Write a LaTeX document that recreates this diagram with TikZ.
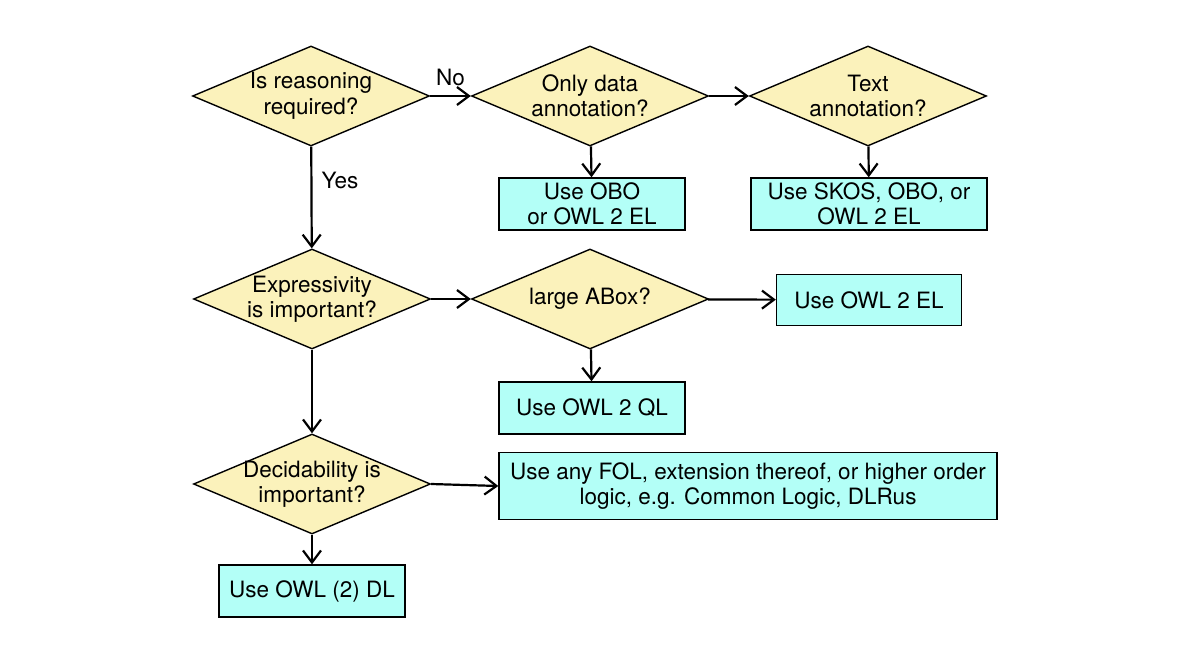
\documentclass[tikz,border=0pt]{standalone}
\usepackage{fontspec}
\setmainfont{TeX Gyre Heros}
\usetikzlibrary{shapes.geometric,arrows.meta}
\definecolor{qyellow}{RGB}{251,242,187}
\definecolor{qcyan}{RGB}{179,255,247}
\begin{document}
\begin{tikzpicture}[x=1pt,y=-1pt,
  every node/.style={font=\fontsize{22.5}{25.5}\selectfont, align=center, inner sep=0pt},
  decision/.style={shape=diamond, draw=black, line width=1.4pt, fill=qyellow, aspect=2.37, minimum width=237pt, minimum height=100pt, label={center:#1}},
  result/.style={shape=rectangle, draw=black, line width=1.4pt, fill=qcyan},
  conn/.style={line width=2.2pt, -{Straight Barb[length=12pt,width=18pt,line width=2.2pt]}}
]
\useasboundingbox (0,0) rectangle (1204,647);
\node[decision={Is reasoning\\required?}] (d1) at (311,96) {};
\node[decision={Only data\\annotation?}] (d2) at (590,96) {};
\node[decision={Text\\annotation?}] (d3) at (868,96) {};
\node[result, minimum width=186pt, minimum height=52pt] (b1) at (592,204) {Use OBO\\or OWL 2 EL};
\node[result, minimum width=236pt, minimum height=52pt] (b2) at (869,204) {Use SKOS, OBO, or\\OWL 2 EL};
\node[decision={Expressivity\\is important?}] (d4) at (312,299) {};
\node[decision={large ABox?}] (d5) at (590,299) {};
\node[result, minimum width=185pt, minimum height=51pt] (b3) at (869,300) {Use OWL 2 EL};
\node[result, minimum width=186pt, minimum height=52pt] (b4) at (592,408) {Use OWL 2 QL};
\node[decision={Decidability is\\important?}] (d6) at (312,484) {};
\node[result, minimum width=498pt, minimum height=67pt] (b5) at (748,486) {Use any FOL, extension thereof, or higher order\\logic, e.g. Common Logic, DLRus};
\node[result, minimum width=186pt, minimum height=52pt] (b6) at (312,591) {Use OWL (2) DL};
\draw[conn] (d1) -- node[above=9pt] {No} (d2);
\draw[conn] (d2) -- (d3);
\draw[conn] (d2) -- (b1);
\draw[conn] (d3) -- (b2);
\draw[conn] (d1) -- node[pos=0.33, right=9pt] {Yes} (d4);
\draw[conn] (d4) -- (d5);
\draw[conn] (d5) -- (b3);
\draw[conn] (d5) -- (b4);
\draw[conn] (d4) -- (d6);
\draw[conn] (d6.east) -- (b5.west);
\draw[conn] (d6) -- (b6);
\end{tikzpicture}
\end{document}
